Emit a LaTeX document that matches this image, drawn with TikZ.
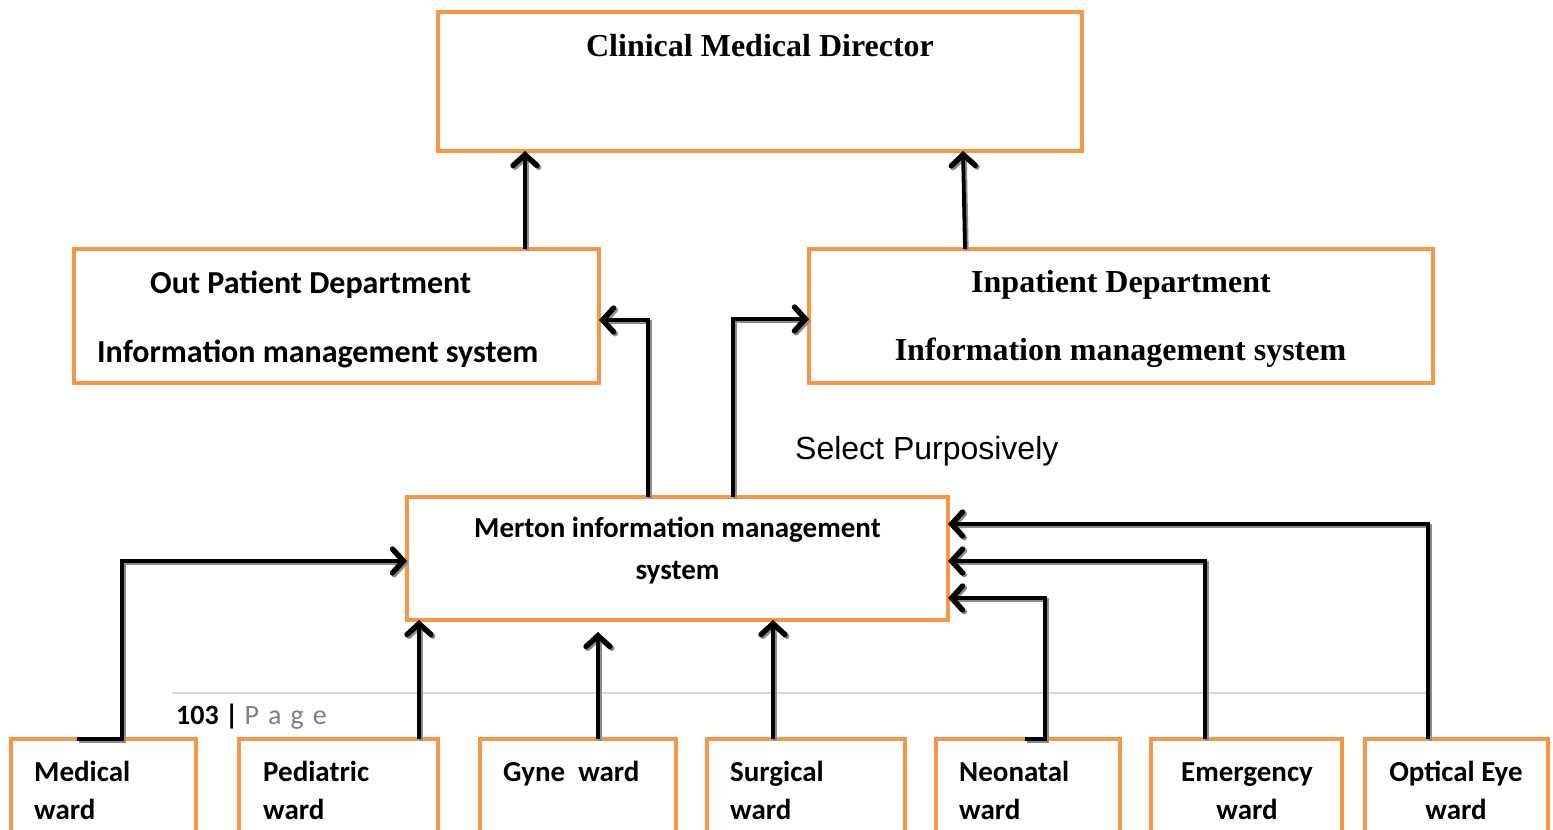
\documentclass[tikz,border=0pt]{standalone}
\usepackage{fontspec}
\usetikzlibrary{arrows.meta}
\newfontfamily\calfont{Carlito}
\newfontfamily\tnrfont{Liberation Serif}
\newfontfamily\arifont{Liberation Sans}
\definecolor{boxorange}{HTML}{F79646}
\definecolor{shadowgray}{HTML}{8C8C8C}
\definecolor{footgray}{HTML}{D9D9D9}
\definecolor{pagegray}{HTML}{7F7F7F}
\tikzset{
  obox/.style={draw=boxorange, line width=4pt, rectangle, inner sep=0pt, outer sep=0pt, fill=white},
  big/.style={font=\calfont\bfseries\fontsize{32}{38}\selectfont, inner sep=0pt},
  bigserif/.style={font=\tnrfont\bfseries\fontsize{32}{38}\selectfont, inner sep=0pt},
  wardtxt/.style={font=\calfont\bfseries\fontsize{29}{34}\selectfont, inner sep=0pt},
  barb/.tip={Straight Barb[length=11pt,width=24pt,line width=0pt 1.4,line cap=round]},
  conn/.style={line width=3.8pt, black, -barb,
    preaction={draw=shadowgray, line width=3.8pt, transform canvas={shift={(1.8pt,-1.8pt)}}}},
}
\begin{document}
\begin{tikzpicture}[x=1pt,y=-1pt]
\useasboundingbox (0,0) rectangle (1553,830);
% boxes
\node[obox, minimum width=644pt, minimum height=139pt] (dir) at (760,81.5) {};
\node[obox, minimum width=525pt, minimum height=134pt] (opd) at (336.5,316) {};
\node[obox, minimum width=624pt, minimum height=134pt] (ipd) at (1121,316) {};
\node[obox, minimum width=541pt, minimum height=123pt] (mer) at (677.5,558.5) {};
\node[obox, minimum width=185pt, minimum height=106pt] (med) at (103.5,792) {};
\node[obox, minimum width=199pt, minimum height=106pt] (ped) at (338.5,792) {};
\node[obox, minimum width=196pt, minimum height=106pt] (gyn) at (578,792) {};
\node[obox, minimum width=198pt, minimum height=106pt] (sur) at (806,792) {};
\node[obox, minimum width=184pt, minimum height=106pt] (neo) at (1028,792) {};
\node[obox, minimum width=191pt, minimum height=106pt] (eme) at (1246.5,792) {};
\node[obox, minimum width=183pt, minimum height=106pt] (opt) at (1456.5,792) {};
% footer
\draw[footgray, line width=1.5pt] (172,693) coordinate (fl) -- (1428,693) coordinate (fr);
\node[anchor=base west, inner sep=0pt, font=\calfont\fontsize{28}{32}\selectfont] (foot) at (176,724)
  {\textbf{103 |} \textcolor{pagegray}{P\hspace{9pt}a\hspace{9pt}g\hspace{9pt}e}};
% texts
\node[bigserif, anchor=base] (tdir) at (760,56) {Clinical Medical Director};
\node[big, anchor=base west] (topd1) at (150,293) {Out Patient Department};
\node[big, anchor=base west] (topd2) at (97,362) {Information management system};
\node[bigserif, anchor=base] (tipd1) at (1121,292) {Inpatient Department};
\node[bigserif, anchor=base] (tipd2) at (1120.5,360) {Information management system};
\node[anchor=base west, inner sep=0pt, font=\arifont\fontsize{32}{38}\selectfont] (tsel) at (795,459) {Select Purposively};
\node[wardtxt, anchor=base] (tmer1) at (677.5,537) {Merton information management};
\node[wardtxt, anchor=base] (tmer2) at (677.5,579) {system};
\node[wardtxt, anchor=base west] (tmed1) at (34,781) {Medical};
\node[wardtxt, anchor=base west] (tmed2) at (34,819) {ward};
\node[wardtxt, anchor=base west] (tped1) at (263,781) {Pediatric};
\node[wardtxt, anchor=base west] (tped2) at (263,819) {ward};
\node[wardtxt, anchor=base west] (tgyn) at (503,781) {Gyne~~ward};
\node[wardtxt, anchor=base west] (tsur1) at (730,781) {Surgical};
\node[wardtxt, anchor=base west] (tsur2) at (730,819) {ward};
\node[wardtxt, anchor=base west] (tneo1) at (959,781) {Neonatal};
\node[wardtxt, anchor=base west] (tneo2) at (959,819) {ward};
\node[wardtxt, anchor=base] (teme1) at (1247,781) {Emergency};
\node[wardtxt, anchor=base] (teme2) at (1247,819) {ward};
\node[wardtxt, anchor=base] (topt1) at (1456,781) {Optical Eye};
\node[wardtxt, anchor=base] (topt2) at (1456,819) {ward};
% connectors
\draw[conn] ([xshift=451pt]opd.north west) -- ([xshift=87pt]dir.south west);
\draw[conn] ([xshift=156pt]ipd.north west) -- ([xshift=525pt]dir.south west);
\draw[conn] ([xshift=241pt]mer.north west) |- ([yshift=-71pt]opd.north east);
\draw[conn] ([xshift=326pt]mer.north west) |- ([yshift=-70pt]ipd.north west);
\draw[conn] ([xshift=66pt]med.north west) -- ++(45,0) |- ([yshift=-64pt]mer.north west);
\draw[conn] ([xshift=180pt]ped.north west) -- ([xshift=12pt]mer.south west);
\draw[conn] ([xshift=118pt]gyn.north west) -- ([xshift=191pt,yshift=-12pt]mer.south west);
\draw[conn] ([xshift=66pt]sur.north west) -- ([xshift=366pt]mer.south west);
\draw[conn] ([xshift=89pt]neo.north west) -- ++(20,0) |- ([yshift=-101pt]mer.north east);
\draw[conn] ([xshift=54pt]eme.north west) |- ([yshift=-64pt]mer.north east);
\draw[conn] ([xshift=63pt]opt.north west) |- ([yshift=-27pt]mer.north east);
\end{tikzpicture}
\end{document}
